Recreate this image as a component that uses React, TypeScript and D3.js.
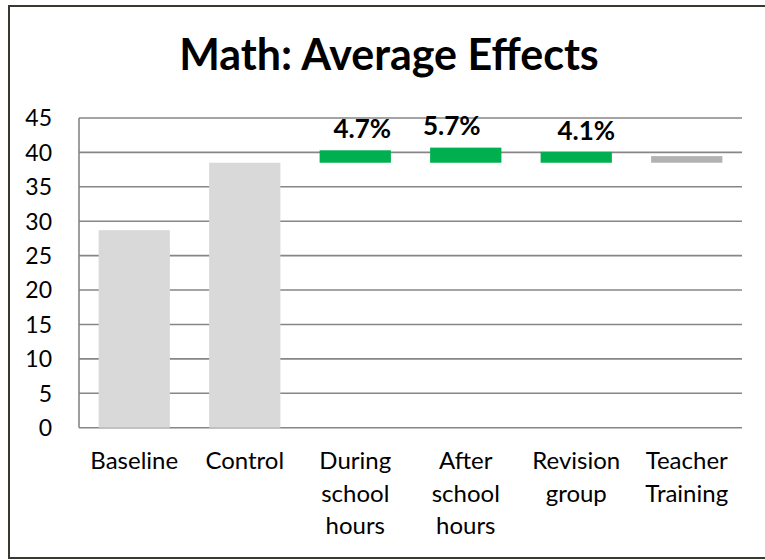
import React from "react";
import * as d3 from "d3";

// Chart data
const categories = [
  "Baseline",
  "Control",
  "During school hours",
  "After school hours",
  "Revision group",
  "Teacher Training",
];
const categoryLines = [
  ["Baseline"],
  ["Control"],
  ["During", "school", "hours"],
  ["After", "school", "hours"],
  ["Revision", "group"],
  ["Teacher", "Training"],
];
const baselineScore = 28.7;
const controlScore = 38.5;
// Effect of each intervention, in percent over the control score
const effectPct = [4.7, 5.7, 4.1, 2.5];
const effectLabelled = [true, true, true, false];
const yTicks = [0, 5, 10, 15, 20, 25, 30, 35, 40, 45];

// Layout
const W = 765;
const H = 560;
const plot = { left: 79, right: 742, top: 118, bottom: 427.7 };
const FONT = "Lato, 'Open Sans', sans-serif";
const GRID = "#868686";
// small horizontal nudges for the percentage labels
const LABEL_NUDGE = [7, -14, 10];
const LABEL_LIFT = [12, 13, 12];

export default function App() {
  const x = d3
    .scaleBand<string>()
    .domain(categories)
    .range([plot.left, plot.right])
    .paddingInner(0.355)
    .paddingOuter(0.355 / 2);
  const y = d3.scaleLinear().domain([0, 45]).range([plot.bottom, plot.top]);

  const bars: { cat: string; y0: number; y1: number; fill: string }[] = [
    { cat: categories[0], y0: 0, y1: baselineScore, fill: "#d9d9d9" },
    { cat: categories[1], y0: 0, y1: controlScore, fill: "#d9d9d9" },
  ];
  effectPct.forEach((p, i) => {
    bars.push({
      cat: categories[i + 2],
      y0: controlScore,
      y1: controlScore * (1 + p / 100),
      fill: effectLabelled[i] ? "#00b050" : "#b2b2b2",
    });
  });

  return (
    <svg
      width={W}
      height={H}
      style={{ position: "absolute", left: 0, top: 0, background: "#fff" }}
      fontFamily={FONT}
    >
      <rect x={9} y={6} width={800} height={552} fill="#fff" stroke="#3a3830" strokeWidth={2} />

      <text x={389} y={70} textAnchor="middle" fontSize={43} fontWeight={700} fill="#000">
        Math: Average Effects
      </text>

      {/* gridlines */}
      {yTicks.map((t) => (
        <line
          key={t}
          x1={plot.left}
          x2={plot.right}
          y1={y(t)}
          y2={y(t)}
          stroke={GRID}
          strokeWidth={1.6}
        />
      ))}
      <line x1={plot.left} x2={plot.left} y1={y(45)} y2={y(0)} stroke={GRID} strokeWidth={1.6} />

      {/* y tick labels */}
      {yTicks.map((t) => (
        <text key={t} x={52} y={y(t)} dy="0.36em" textAnchor="end" fontSize={23} fill="#000">
          {t}
        </text>
      ))}

      {/* bars */}
      {bars.map((b) => (
        <rect
          key={b.cat}
          x={x(b.cat)}
          width={x.bandwidth()}
          y={y(b.y1)}
          height={y(b.y0) - y(b.y1)}
          fill={b.fill}
        />
      ))}

      {/* effect labels */}
      {effectPct.map((p, i) =>
        effectLabelled[i] ? (
          <text
            key={p}
            x={(x(categories[i + 2]) as number) + x.bandwidth() / 2 + LABEL_NUDGE[i]}
            y={y(controlScore * (1 + p / 100)) - LABEL_LIFT[i]}
            textAnchor="middle"
            fontSize={26}
            fontWeight={700}
            fill="#000"
          >
            {p.toFixed(1)}%
          </text>
        ) : null
      )}

      {/* category labels */}
      {categories.map((c, i) => (
        <text
          key={c}
          x={(x(c) as number) + x.bandwidth() / 2}
          y={469}
          textAnchor="middle"
          fontSize={24}
          fill="#000"
        >
          {categoryLines[i].map((line, j) => (
            <tspan key={j} x={(x(c) as number) + x.bandwidth() / 2} dy={j === 0 ? 0 : 32.5}>
              {line}
            </tspan>
          ))}
        </text>
      ))}
    </svg>
  );
}
